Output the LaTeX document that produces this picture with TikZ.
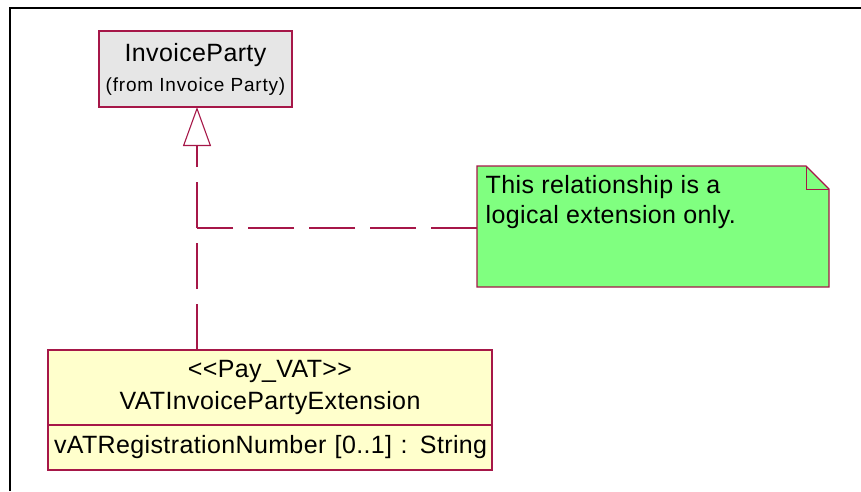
\documentclass[tikz,border=0pt]{standalone}
\usepackage{fontspec}
\setmainfont{Liberation Sans}[LetterSpace=1.5, Ligatures=TeXOff]
\usetikzlibrary{positioning,arrows.meta}

\definecolor{umlborder}{RGB}{166,23,72}
\definecolor{partygray}{RGB}{230,230,230}
\definecolor{classyellow}{RGB}{255,255,204}
\definecolor{notegreen}{RGB}{128,255,128}
\newcommand{\bigfont}{\fontsize{25}{30}\selectfont}
\newcommand{\smallfont}{\fontsize{19}{22}\selectfont\addfontfeatures{LetterSpace=4.3}}

\begin{document}
\begin{tikzpicture}[x=1pt,y=-1pt]

    \tikzstyle{umlbox}=[draw=umlborder, line width=1.2pt, rectangle, inner sep=0pt, outer sep=0pt]
    \tikzstyle{realize}=[draw=umlborder, line width=1.1pt, dash pattern=on 46pt off 15pt]

    \useasboundingbox (0,0) rectangle (861,491);
    % frame
    \draw[line width=2pt] (10,491) -- (10,7.5) -- (861,7.5);

    \node[umlbox, fill=partygray, minimum width=193pt, minimum height=76pt,
          align=center, font=\bigfont] (Party) at (195.5,69)
          {InvoiceParty\\{\smallfont (from Invoice Party)}};

    \node[umlbox, fill=classyellow, minimum width=444pt, minimum height=75pt,
          align=center, font=\bigfont] (Ext) at (270,387.5)
          {<<Pay\_VAT>>\\[2.5pt]VATInvoicePartyExtension};
    \node[umlbox, fill=classyellow, minimum width=444pt, minimum height=45pt,
          text width=432pt, align=left, font=\bigfont, below=0pt of Ext] (Attr)
          {\mbox{vATRegistrationNumber [0..1] : String}};

    % note with folded corner
    \node[inner sep=0pt, outer sep=0pt, minimum width=352pt, minimum height=121pt] (Note) at (653,226.5) {};
    \filldraw[fill=notegreen, draw=umlborder, line width=1.2pt]
        (Note.north west) -- ([xshift=-23pt]Note.north east) -- ([yshift=-23pt]Note.north east)
        -- (Note.south east) -- (Note.south west) -- cycle;
    \draw[umlborder, line width=0.8pt] ([xshift=-23pt]Note.north east) |- ([yshift=-23pt]Note.north east);
    \node[anchor=north west, inner sep=0pt, align=left, font=\bigfont] (NoteText) at (485.5,175.3)
        {This relationship is a\\logical extension only.};

    % realization and note link
    \coordinate (Join) at (197,228);
    \draw[realize, -{Triangle[open, length=39pt, width=28pt, fill=white]}] (Ext.north -| Join) -- (Party.south -| Join);
    \draw[realize] (Note.west |- Join) -- (Join);

\end{tikzpicture}
\end{document}
